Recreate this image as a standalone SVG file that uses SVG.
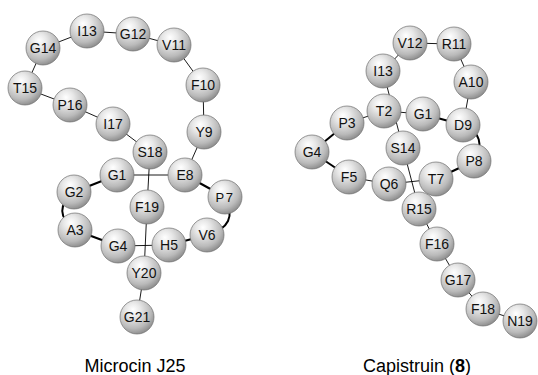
<svg xmlns="http://www.w3.org/2000/svg" width="538" height="375" viewBox="0 0 538 375">
  <defs>
    <radialGradient id="ball" cx="0.4" cy="0.33" r="0.72" fx="0.38" fy="0.28">
      <stop offset="0" stop-color="#ffffff"/>
      <stop offset="0.3" stop-color="#e8e8e8"/>
      <stop offset="0.72" stop-color="#bababa"/>
      <stop offset="1" stop-color="#858585"/>
    </radialGradient>
  </defs>
  <style>
    .thin { stroke: #000; stroke-width: 0.9; fill: none; }
    .bold { stroke: #000; stroke-width: 2; fill: none; }
    .res circle { fill: url(#ball); stroke: #6e6e6e; stroke-width: 0.7; }
    .res text { font-family: "Liberation Sans", Arial, Helvetica, sans-serif; font-size: 14px; fill: #111; text-anchor: middle; }
    .caption { font-family: "Liberation Sans", Arial, Helvetica, sans-serif; font-size: 18px; fill: #000; text-anchor: middle; }
  </style>

  <!-- Microcin J25 backbone and lasso bonds -->
  <g id="connectors-mccj25">
    <line class="bold" x1="117" y1="175" x2="74" y2="192"/>
    <path class="bold" d="M74,192 Q50,211 75,230"/>
    <line class="bold" x1="75" y1="230" x2="118" y2="246"/>
    <line class="thin" x1="118" y1="246" x2="169" y2="245"/>
    <line class="bold" x1="169" y1="245" x2="207" y2="235"/>
    <path class="bold" d="M207,235 Q240,226 225,197"/>
    <line class="bold" x1="225" y1="197" x2="185" y2="175"/>
    <line class="thin" x1="185" y1="175" x2="204" y2="132"/>
    <line class="thin" x1="204" y1="132" x2="203" y2="85"/>
    <line class="thin" x1="203" y1="85" x2="174" y2="45"/>
    <line class="thin" x1="174" y1="45" x2="133" y2="34"/>
    <line class="thin" x1="133" y1="34" x2="87" y2="31"/>
    <line class="thin" x1="87" y1="31" x2="43" y2="48"/>
    <line class="thin" x1="43" y1="48" x2="25" y2="88"/>
    <line class="thin" x1="25" y1="88" x2="70" y2="105"/>
    <line class="thin" x1="70" y1="105" x2="113" y2="124"/>
    <line class="thin" x1="113" y1="124" x2="150" y2="152"/>
    <line class="thin" x1="150" y1="152" x2="147" y2="207"/>
    <line class="thin" x1="147" y1="207" x2="144" y2="273"/>
    <line class="thin" x1="144" y1="273" x2="137" y2="317"/>
    <line class="thin" x1="117" y1="175" x2="185" y2="175"/>
  </g>

  <!-- Capistruin backbone and lasso bonds -->
  <g id="connectors-capistruin">
    <line class="thin" x1="423" y1="114" x2="384" y2="111"/>
    <line class="thin" x1="384" y1="111" x2="347" y2="123"/>
    <line class="bold" x1="347" y1="123" x2="312" y2="152"/>
    <line class="bold" x1="312" y1="152" x2="349" y2="177"/>
    <line class="thin" x1="349" y1="177" x2="389" y2="184"/>
    <line class="thin" x1="389" y1="184" x2="436" y2="179"/>
    <line class="bold" x1="436" y1="179" x2="474" y2="161"/>
    <path class="bold" d="M474,161 Q489,136 463,125"/>
    <line class="bold" x1="463" y1="125" x2="423" y2="114"/>
    <line class="thin" x1="463" y1="125" x2="471" y2="82"/>
    <line class="thin" x1="471" y1="82" x2="454" y2="44"/>
    <line class="thin" x1="454" y1="44" x2="410" y2="43"/>
    <line class="thin" x1="410" y1="43" x2="383" y2="71"/>
    <line class="thin" x1="383" y1="71" x2="403" y2="148"/>
    <line class="thin" x1="403" y1="148" x2="419" y2="209"/>
    <line class="thin" x1="419" y1="209" x2="437" y2="244"/>
    <line class="thin" x1="437" y1="244" x2="458" y2="280"/>
    <line class="thin" x1="458" y1="280" x2="483" y2="309"/>
    <line class="thin" x1="483" y1="309" x2="520" y2="321"/>
  </g>

  <!-- Microcin J25 residues -->
  <g id="mccj25-G1" class="res"><circle cx="117" cy="175" r="17"/><text x="117" y="180">G1</text></g>
  <g id="mccj25-G2" class="res"><circle cx="74" cy="192" r="17"/><text x="74" y="197">G2</text></g>
  <g id="mccj25-A3" class="res"><circle cx="75" cy="230" r="17"/><text x="75" y="235">A3</text></g>
  <g id="mccj25-G4" class="res"><circle cx="118" cy="246" r="17"/><text x="118" y="251">G4</text></g>
  <g id="mccj25-H5" class="res"><circle cx="169" cy="245" r="17"/><text x="169" y="250">H5</text></g>
  <g id="mccj25-V6" class="res"><circle cx="207" cy="235" r="17"/><text x="207" y="240">V6</text></g>
  <g id="mccj25-P7" class="res"><circle cx="225" cy="197" r="17"/><text x="225" y="202" style="font-size:13px;letter-spacing:1.5px">P7</text></g>
  <g id="mccj25-E8" class="res"><circle cx="185" cy="175" r="17"/><text x="185" y="180">E8</text></g>
  <g id="mccj25-Y9" class="res"><circle cx="204" cy="132" r="17"/><text x="204" y="137">Y9</text></g>
  <g id="mccj25-F10" class="res"><circle cx="203" cy="85" r="17"/><text x="203" y="90">F10</text></g>
  <g id="mccj25-V11" class="res"><circle cx="174" cy="45" r="17"/><text x="174" y="50">V11</text></g>
  <g id="mccj25-G12" class="res"><circle cx="133" cy="34" r="17"/><text x="133" y="39">G12</text></g>
  <g id="mccj25-I13" class="res"><circle cx="87" cy="31" r="17"/><text x="87" y="36">I13</text></g>
  <g id="mccj25-G14" class="res"><circle cx="43" cy="48" r="17"/><text x="43" y="53">G14</text></g>
  <g id="mccj25-T15" class="res"><circle cx="25" cy="88" r="17"/><text x="25" y="93">T15</text></g>
  <g id="mccj25-P16" class="res"><circle cx="70" cy="105" r="17"/><text x="70" y="110">P16</text></g>
  <g id="mccj25-I17" class="res"><circle cx="113" cy="124" r="17"/><text x="113" y="129">I17</text></g>
  <g id="mccj25-S18" class="res"><circle cx="150" cy="152" r="17"/><text x="150" y="157">S18</text></g>
  <g id="mccj25-F19" class="res"><circle cx="147" cy="207" r="17"/><text x="147" y="212">F19</text></g>
  <g id="mccj25-Y20" class="res"><circle cx="144" cy="273" r="17"/><text x="144" y="278">Y20</text></g>
  <g id="mccj25-G21" class="res"><circle cx="137" cy="317" r="17"/><text x="137" y="322">G21</text></g>

  <!-- Capistruin residues -->
  <g id="cap-G1" class="res"><circle cx="423" cy="114" r="17"/><text x="423" y="119">G1</text></g>
  <g id="cap-T2" class="res"><circle cx="384" cy="111" r="17"/><text x="384" y="116">T2</text></g>
  <g id="cap-P3" class="res"><circle cx="347" cy="123" r="17"/><text x="347" y="128">P3</text></g>
  <g id="cap-G4" class="res"><circle cx="312" cy="152" r="17"/><text x="312" y="157">G4</text></g>
  <g id="cap-F5" class="res"><circle cx="349" cy="177" r="17"/><text x="349" y="182">F5</text></g>
  <g id="cap-Q6" class="res"><circle cx="389" cy="184" r="17"/><text x="389" y="189">Q6</text></g>
  <g id="cap-T7" class="res"><circle cx="436" cy="179" r="17"/><text x="436" y="184">T7</text></g>
  <g id="cap-P8" class="res"><circle cx="474" cy="161" r="17"/><text x="474" y="166">P8</text></g>
  <g id="cap-D9" class="res"><circle cx="463" cy="125" r="17"/><text x="463" y="130">D9</text></g>
  <g id="cap-A10" class="res"><circle cx="471" cy="82" r="17"/><text x="471" y="87">A10</text></g>
  <g id="cap-R11" class="res"><circle cx="454" cy="44" r="17"/><text x="454" y="49">R11</text></g>
  <g id="cap-V12" class="res"><circle cx="410" cy="43" r="17"/><text x="410" y="48">V12</text></g>
  <g id="cap-I13" class="res"><circle cx="383" cy="71" r="17"/><text x="383" y="76">I13</text></g>
  <g id="cap-S14" class="res"><circle cx="403" cy="148" r="17"/><text x="403" y="153">S14</text></g>
  <g id="cap-R15" class="res"><circle cx="419" cy="209" r="17"/><text x="419" y="214">R15</text></g>
  <g id="cap-F16" class="res"><circle cx="437" cy="244" r="17"/><text x="437" y="249">F16</text></g>
  <g id="cap-G17" class="res"><circle cx="458" cy="280" r="17"/><text x="458" y="285">G17</text></g>
  <g id="cap-F18" class="res"><circle cx="483" cy="309" r="17"/><text x="483" y="314">F18</text></g>
  <g id="cap-N19" class="res"><circle cx="520" cy="321" r="17"/><text x="520" y="326">N19</text></g>

  <!-- Captions -->
  <text class="caption" x="135" y="372">Microcin J25</text>
  <text class="caption" x="417" y="372">Capistruin (<tspan font-weight="bold">8</tspan>)</text>
</svg>
